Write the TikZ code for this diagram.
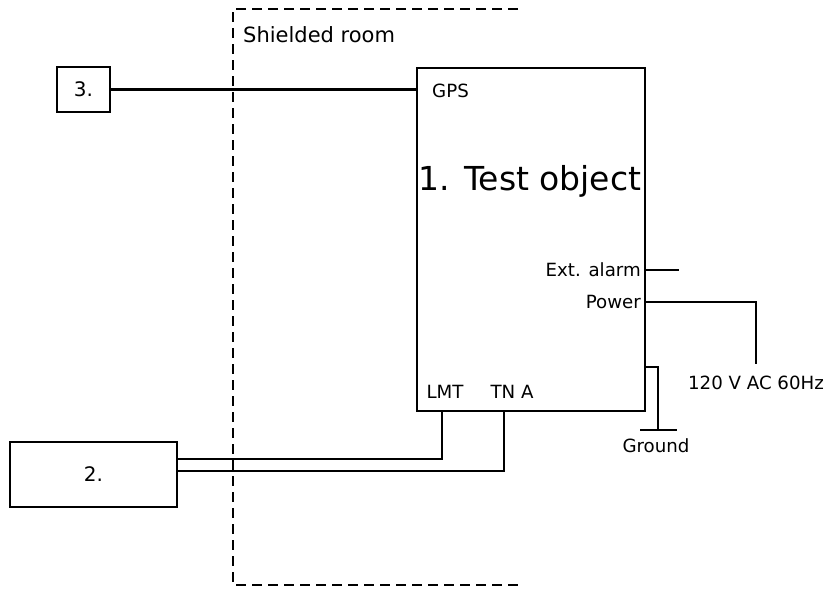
\documentclass[tikz,border=0pt]{standalone}
\usepackage{fontspec}
\setmainfont{DejaVu Sans}
\begin{document}
\begin{tikzpicture}[x=1pt,y=-1pt,
  wire/.style={line width=2.4pt},
  boxnode/.style={draw,line width=2.4pt,inner sep=0pt},
  lbl/.style={font=\fontsize{18.2}{20}\selectfont,inner sep=0pt},
  roomline/.style={line width=2.4pt,dash pattern=on 10pt off 6pt}]
\useasboundingbox (0,0) rectangle (835,589);
% shielded room
\draw[roomline] (518,9) -- (233,9) -- (233,585) -- (518,585);
\node[lbl,anchor=west,font=\fontsize{21}{23}\selectfont] (room) at (243,35) {Shielded room};
% boxes
\node[boxnode,minimum width=53pt,minimum height=45pt] (b3) at (83.5,89.5) {};
\node[lbl,font=\fontsize{20}{22}\selectfont] (t3) at (b3.center) {3.};
\node[boxnode,minimum width=228pt,minimum height=343pt] (obj) at (531,239.5) {};
\node[boxnode,minimum width=167pt,minimum height=65pt] (b2) at (93.5,474.5) {};
\node[lbl,font=\fontsize{20}{22}\selectfont] (t2) at (b2.center) {2.};
\node[inner sep=0pt,font=\fontsize{33}{36}\selectfont] (title) at (530,181) {1. Test object};
% port labels
\node[lbl,anchor=west] (gps) at (432,91) {GPS};
\node[lbl,anchor=east] (alarm) at (641,270) {Ext. alarm};
\node[lbl,anchor=east] (power) at (641,302) {Power};
\node[lbl] (lmt) at (445,392) {LMT};
\node[lbl] (tna) at (512,392) {TN A};
\node[lbl] (ac) at (756,383) {120 V AC 60Hz};
\node[lbl] (gnd) at (656,446) {Ground};
% coordinates
\coordinate (alarmout) at (645,270);
\coordinate (alarmend) at (679,270);
\coordinate (powout) at (645,302);
\coordinate (powcorner) at (756,302);
\coordinate (powend) at (756,364);
\coordinate (gndout) at (645,367);
\coordinate (gndcorner) at (658,367);
\coordinate (gndbar) at (658,430);
\coordinate (gndl) at (640,430);
\coordinate (gndr) at (677,430);
\coordinate (lmtout) at (442,411);
\coordinate (lmtcorner) at (442,459);
\coordinate (lmtend) at (177,459);
\coordinate (tnaout) at (504,411);
\coordinate (tnacorner) at (504,471);
\coordinate (tnaend) at (177,471);
% wires
\draw[wire] (b3.east) -- (obj.west |- b3.east);
\draw[wire] (alarmout) -- (alarmend);
\draw[wire] (powout) -- (powcorner) -- (powend);
\draw[wire] (gndout) -- (gndcorner) -- (gndbar);
\draw[wire] (gndl) -- (gndr);
\draw[wire] (lmtout) -- (lmtcorner) -- (lmtend);
\draw[wire] (tnaout) -- (tnacorner) -- (tnaend);
\end{tikzpicture}
\end{document}
